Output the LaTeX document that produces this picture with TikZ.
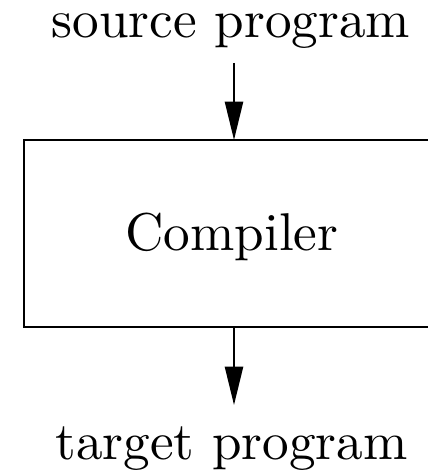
\documentclass[tikz,border=0pt]{standalone}
\usetikzlibrary{arrows.meta}
\begin{document}
\begin{tikzpicture}[x=0.188pt,y=-0.188pt,
  lbl/.style={anchor=base,inner sep=0pt,font=\normalsize},
  flow/.style={line width=0.4pt,-{Triangle[length=7.2pt,width=3.4pt]}},
  boxstyle/.style={draw,line width=0.45pt}]
\useasboundingbox (0,0) rectangle (428,470);
\clip (0,0) rectangle (428,470);
\node[lbl] (src) at (231,38) {source program};
\node[lbl] (cmp) at (232,251) {Compiler};
\node[lbl] (tgt) at (231.5,459) {target program};
\draw[boxstyle] (24,140) rectangle (445,327);
\coordinate (a1) at (234,63);
\coordinate (a2) at (234,140);
\coordinate (b1) at (234,327);
\coordinate (b2) at (234,405);
\draw[flow] (a1) -- (a2);
\draw[flow] (b1) -- (b2);
\end{tikzpicture}
\end{document}
